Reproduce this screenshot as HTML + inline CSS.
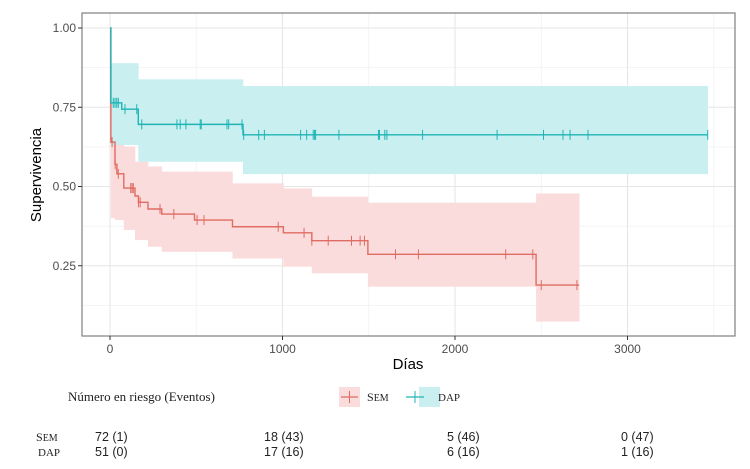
<!DOCTYPE html>
<html><head><meta charset="utf-8"><style>
html,body{margin:0;padding:0;background:#fff;width:750px;height:469px;overflow:hidden}
svg{display:block}
.ax{font-family:"Liberation Sans",sans-serif;font-size:12px;fill:#4d4d4d}
.ttl{font-family:"Liberation Sans",sans-serif;font-size:15px;fill:#000}
.ser{font-family:"Liberation Serif",serif;font-size:13px;fill:#222}
.num{font-family:"Liberation Sans",sans-serif;font-size:12.5px;fill:#222}
</style></head><body>
<svg id="chart" width="750" height="469" xmlns="http://www.w3.org/2000/svg"></svg>
<script>
// ---- data ----
const semTimes = [0, 5, 29, 40, 80, 145, 165, 220, 300, 490, 710, 1005, 1170, 1495, 2470];
const semSurv  = [1.0, 0.64, 0.57, 0.54, 0.495, 0.47, 0.45, 0.429, 0.413, 0.394, 0.373, 0.354, 0.329, 0.286, 0.189];
const semLower = [1.0, 0.40, 0.394, 0.394, 0.363, 0.331, 0.331, 0.31, 0.294, 0.294, 0.273, 0.247, 0.226, 0.184, 0.074];
const semUpper = [1.0, 0.68, 0.68, 0.68, 0.626, 0.578, 0.578, 0.563, 0.547, 0.547, 0.51, 0.494, 0.468, 0.449, 0.478];
const semEnd = 2720;
const semCensor = [12, 30, 48, 120, 128, 135, 165, 175, 290, 370, 505, 545, 975, 1125, 1170, 1265, 1400, 1450, 1475, 1655, 1788, 2294, 2451, 2500, 2707];

const dapTimes = [0, 5, 68, 164, 771];
const dapSurv  = [1.0, 0.764, 0.744, 0.696, 0.663];
const dapLower = [1.0, 0.631, 0.631, 0.578, 0.539];
const dapUpper = [1.0, 0.889, 0.889, 0.838, 0.817];
const dapEnd = 3465;
const dapCensor = [19, 29, 39, 48, 87, 155, 184, 388, 407, 440, 523, 529, 678, 688, 765, 775, 862, 895, 1105, 1140, 1178, 1186, 1192, 1327, 1556, 1562, 1593, 1605, 1812, 2244, 2513, 2626, 2667, 2771, 3465];

const xTicks = [0, 1000, 2000, 3000];
const xMinor = [500, 1500, 2500, 3500];
const yTicks = [0.25, 0.5, 0.75, 1.0];
const yLabels = ["0.25", "0.50", "0.75", "1.00"];
const yMinor = [0.125, 0.375, 0.625, 0.875];

// ---- scales ----
const P = {l:82, r:735, t:13, b:336};
const X = t => 110 + t * 0.1725;
const Y = s => 28 + (1 - s) * 317;

const NS = "http://www.w3.org/2000/svg";
const svg = document.getElementById("chart");
function mk(tag, attrs, parent) {
  const e = document.createElementNS(NS, tag);
  for (const k in attrs) e.setAttribute(k, attrs[k]);
  (parent || svg).appendChild(e);
  return e;
}

const grid = mk("g", {});


xMinor.forEach(v => { if (X(v) < P.r) mk("line", {x1:X(v), x2:X(v), y1:P.t, y2:P.b, stroke:"#f0f0f0", "stroke-width":0.8}, grid); });
yMinor.forEach(v => mk("line", {x1:P.l, x2:P.r, y1:Y(v), y2:Y(v), stroke:"#f0f0f0", "stroke-width":0.8}, grid));
xTicks.forEach(v => mk("line", {x1:X(v), x2:X(v), y1:P.t, y2:P.b, stroke:"#e6e6e6", "stroke-width":1.1}, grid));
yTicks.forEach(v => mk("line", {x1:P.l, x2:P.r, y1:Y(v), y2:Y(v), stroke:"#e6e6e6", "stroke-width":1.1}, grid));

function stepFn(times, vals, end) {
  let d = "";
  for (let i = 0; i < times.length; i++) {
    const x0 = X(times[i]), x1 = X(i + 1 < times.length ? times[i + 1] : end);
    d += (i === 0 ? "M" : "L") + x0 + "," + Y(vals[i]) + " L" + x1 + "," + Y(vals[i]) + " ";
  }
  return d;
}
function band(times, lo, hi, end, color, name) {
  const g = mk("g", {});
  
  
  for (let i = 1; i < times.length; i++) {
    const x0 = X(times[i]), x1 = X(i + 1 < times.length ? times[i + 1] : end);
    mk("rect", {x:x0, y:Y(hi[i]), width:x1 - x0 + 0.3, height:Y(lo[i]) - Y(hi[i]), fill:color}, g);
  }
}
function survAt(times, vals, t) {
  let s = vals[0];
  for (let i = 0; i < times.length; i++) if (times[i] <= t) s = vals[i];
  return s;
}

band(semTimes, semLower, semUpper, semEnd, "#fbdcdc", "sem-confidence-band");
band(dapTimes, dapLower, dapUpper, dapEnd, "#c9eff1", "dap-confidence-band");

function curve(times, vals, end, cens, color, name) {
  const p = mk("path", {d:stepFn(times, vals, end), fill:"none", stroke:color, "stroke-width":1.4});
  
  
  const g = mk("g", {});
  
  
  cens.forEach(t => {
    const x = X(t), y = Y(survAt(times, vals, t));
    mk("line", {x1:x, x2:x, y1:y - 5, y2:y + 5, stroke:color, "stroke-width":1}, g);
  });
}
curve(semTimes, semSurv, semEnd, semCensor, "#e06b62", "sem");
curve(dapTimes, dapSurv, dapEnd, dapCensor, "#1fb4b4", "dap");

const fr = mk("rect", {x:P.l, y:P.t, width:P.r - P.l, height:P.b - P.t, fill:"none", stroke:"#7f7f7f", "stroke-width":1.2});



xTicks.forEach(v => {
  mk("line", {x1:X(v), x2:X(v), y1:P.b, y2:P.b + 4, stroke:"#333", "stroke-width":1});
  const t = mk("text", {x:X(v), y:353, class:"ax", "text-anchor":"middle"});
  t.textContent = v;
  
  
});
yTicks.forEach((v, i) => {
  mk("line", {x1:P.l - 4, x2:P.l, y1:Y(v), y2:Y(v), stroke:"#333", "stroke-width":1});
  const t = mk("text", {x:76, y:Y(v) + 4, class:"ax", "text-anchor":"end"});
  t.textContent = yLabels[i];
  
  
});
</script>
<svg style="position:absolute;left:0;top:0" width="750" height="469" xmlns="http://www.w3.org/2000/svg">
  <text class="ttl" x="408" y="369" text-anchor="middle">Días</text>
  <text class="ttl" x="41" y="175" text-anchor="middle" transform="rotate(-90 41 175)">Supervivencia</text>
  <text class="ser" x="68" y="401">Número en riesgo (Eventos)</text>
  <g>
    <g>
      <rect x="339" y="387" width="21" height="20" fill="#fbdcdc"/>
      <line x1="341" x2="358" y1="397" y2="397" stroke="#e06b62" stroke-width="1.2"/>
      <line x1="349.5" x2="349.5" y1="391" y2="403" stroke="#e06b62" stroke-width="1"/>
      <text class="ser" x="367" y="401" style="font-size:12px">S<tspan style="font-size:10px">EM</tspan></text>
    </g>
    <g>
      <rect x="419" y="387" width="21" height="20" fill="#c9eff1"/>
      <line x1="406" x2="424" y1="397" y2="397" stroke="#1fb4b4" stroke-width="1.2"/>
      <line x1="415" x2="415" y1="391" y2="403" stroke="#1fb4b4" stroke-width="1"/>
      <text class="ser" x="438" y="401" style="font-size:11px">DAP</text>
    </g>
  </g>
  <g>
    <text class="ser" x="36" y="441" style="font-size:12px">S<tspan style="font-size:10px">EM</tspan></text>
    <text class="ser" x="38" y="456" style="font-size:11px">DAP</text>
    <text class="num" x="95" y="441">72 (1)</text>
    <text class="num" x="264" y="441">18 (43)</text>
    <text class="num" x="447" y="441">5 (46)</text>
    <text class="num" x="621" y="441">0 (47)</text>
    <text class="num" x="95" y="456">51 (0)</text>
    <text class="num" x="264" y="456">17 (16)</text>
    <text class="num" x="447" y="456">6 (16)</text>
    <text class="num" x="621" y="456">1 (16)</text>
  </g>
</svg>
</body></html>
